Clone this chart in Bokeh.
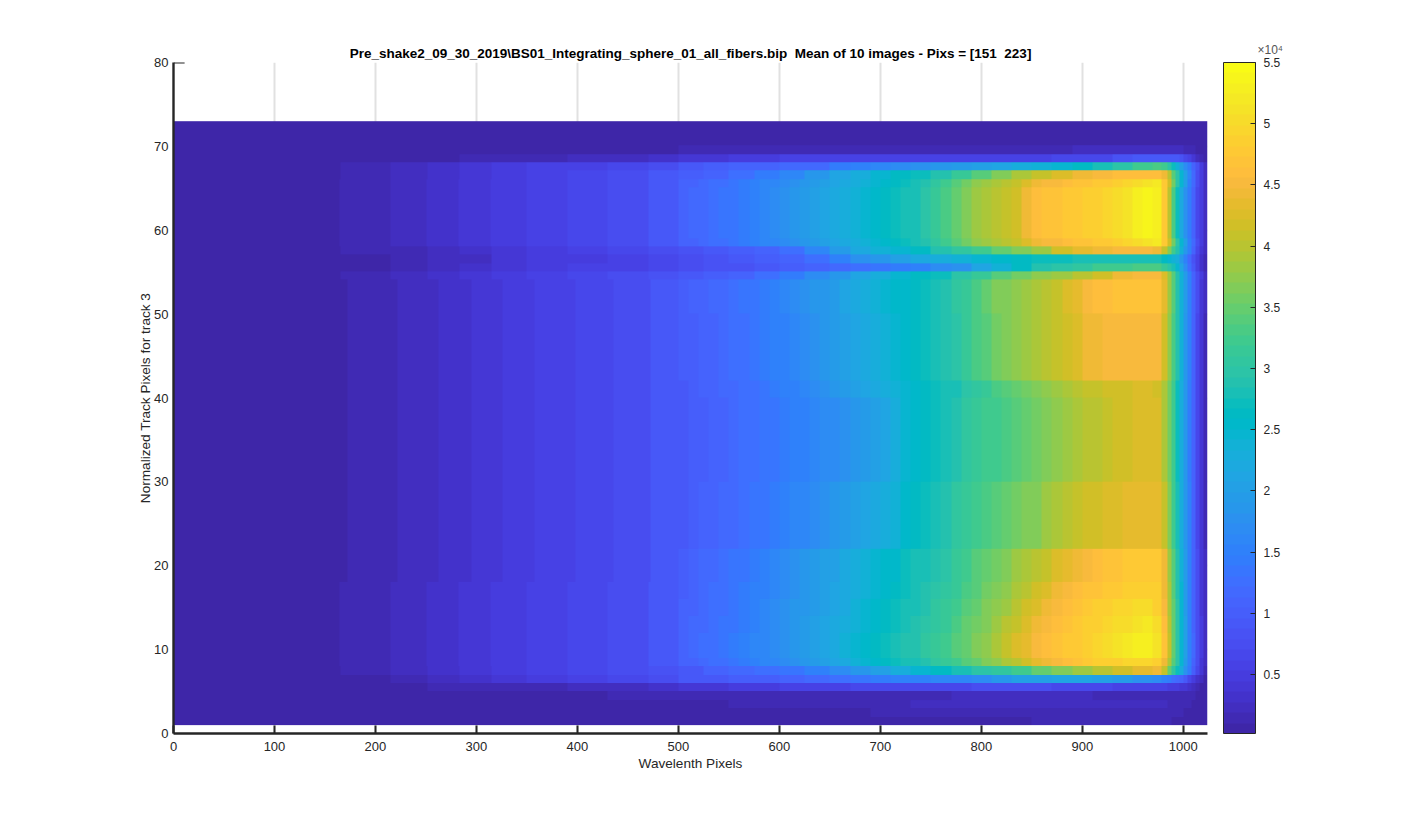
import numpy as np
from bokeh.plotting import figure
from bokeh.embed import file_html
from bokeh.resources import INLINE
from bokeh.models import LinearColorMapper, ColorBar, FixedTicker, Label

PARULA_64 = [
(0.2422,0.1504,0.6603),(0.2504,0.1650,0.7076),(0.2578,0.1818,0.7511),(0.2647,0.1978,0.7952),
(0.2706,0.2147,0.8364),(0.2751,0.2342,0.8710),(0.2783,0.2559,0.8991),(0.2803,0.2782,0.9221),
(0.2813,0.3006,0.9414),(0.2810,0.3228,0.9579),(0.2795,0.3447,0.9717),(0.2760,0.3667,0.9829),
(0.2699,0.3892,0.9906),(0.2602,0.4123,0.9952),(0.2440,0.4358,0.9988),(0.2206,0.4603,0.9973),
(0.1963,0.4847,0.9892),(0.1834,0.5074,0.9798),(0.1786,0.5289,0.9682),(0.1764,0.5499,0.9520),
(0.1687,0.5703,0.9359),(0.1540,0.5902,0.9218),(0.1460,0.6091,0.9079),(0.1380,0.6276,0.8973),
(0.1248,0.6459,0.8883),(0.1113,0.6635,0.8763),(0.0952,0.6798,0.8598),(0.0689,0.6948,0.8394),
(0.0297,0.7082,0.8163),(0.0036,0.7203,0.7917),(0.0067,0.7312,0.7660),(0.0433,0.7411,0.7394),
(0.0964,0.7500,0.7120),(0.1408,0.7584,0.6842),(0.1717,0.7670,0.6554),(0.1938,0.7758,0.6251),
(0.2161,0.7843,0.5923),(0.2470,0.7918,0.5567),(0.2906,0.7973,0.5188),(0.3406,0.8008,0.4789),
(0.3909,0.8029,0.4354),(0.4456,0.8024,0.3909),(0.5044,0.7993,0.3480),(0.5616,0.7942,0.3045),
(0.6174,0.7876,0.2612),(0.6720,0.7793,0.2227),(0.7242,0.7698,0.1910),(0.7738,0.7598,0.1646),
(0.8203,0.7498,0.1535),(0.8634,0.7406,0.1596),(0.9035,0.7330,0.1774),(0.9393,0.7288,0.2100),
(0.9728,0.7298,0.2394),(0.9956,0.7434,0.2371),(0.9970,0.7659,0.2199),(0.9952,0.7893,0.2028),
(0.9892,0.8136,0.1885),(0.9786,0.8386,0.1766),(0.9676,0.8639,0.1643),(0.9610,0.8890,0.1537),
(0.9597,0.9135,0.1423),(0.9628,0.9373,0.1265),(0.9691,0.9606,0.1064),(0.9769,0.9839,0.0805)]
palette = ["#%02x%02x%02x" % tuple(int(round(c * 255)) for c in rgb) for rgb in PARULA_64]

TITLE = "Pre_shake2_09_30_2019\\BS01_Integrating_sphere_01_all_fibers.bip \u00a0Mean of 10 images - Pixs = [151 \u00a0223]"
X_LABEL = "Wavelenth Pixels"
Y_LABEL = "Normalized Track Pixels for track 3"
X_TICKS = [0, 100, 200, 300, 400, 500, 600, 700, 800, 900, 1000]
Y_TICKS = [0, 10, 20, 30, 40, 50, 60, 70, 80]
BAR_TICKS = [0.5, 1, 1.5, 2, 2.5, 3, 3.5, 4, 4.5, 5, 5.5]
BAR_LOW, BAR_HIGH = 0.018, 5.5   # in units of 1e4 counts

# Wavelength pixel bins of the thin rows
COARSE_EDGES = [0,165,215,252,283,315,350,390,430,470,500,525,550,575,600,625,650,670,690,710,730,750,
                770,790,810,830,850,870,890,910,930,950,970,978,984,988,992,996,1000,1004,1008,1012,1016,1020,1024]
# Wavelength pixel bins of the wide bands: left part, middle part in steps of ten, right edge
TOP_LEFT_EDGES = [0,164,215,251,282,314,350,390,430,470]
BODY_LEFT_EDGES = [0,172,222,262,295,326,358,398,436,472]
MID_EDGES = [500,510,520,530,540,550,560,570,580,590,600,610,620,630,640,650,660,670,680,690,700,710,720,730,
             740,750,760,770,780,790,800,810,820,830,840,850,860,870,880,890,900,910,920,930,940,950,960]
TAIL_EDGES = [970,978,984,988,992,996,1000,1004,1008,1012,1016,1020,1024]

# Values, in hundreds of counts
LEFT = [5,14,23,32,40,49,57,66,74,88]

# Wide bands: values in the middle bins and in the right-hand tail
P_mid = [108,114,120,126,132,138,145,152,160,168,176,184,192,200,208,216,226,236,246,254,262,268,276,284,300,316,332,350,368,384,392,400,408,420,440,458,465,470,475,480,485,490,497,505,515,525,538]
P_tail = [530,480,400,330,270,220,180,140,105,70,45,22]
F_mid = [105,110,116,122,128,134,141,148,156,163,171,179,187,195,203,211,221,231,240,248,256,262,270,278,292,308,324,342,358,372,380,388,396,408,426,442,450,455,460,465,470,475,480,487,495,505,515]
F_tail = [518,480,420,360,300,245,200,155,115,78,48,24]
K1_mid = [100,105,110,115,120,126,132,138,145,152,158,166,174,182,190,198,208,218,228,234,245,252,258,266,274,282,292,304,318,335,350,362,370,378,386,394,402,412,425,438,450,458,464,468,470,472,472]
K1_tail = [470,435,385,340,290,240,195,150,110,72,42,20]
K2_mid = [98,103,108,113,118,124,130,136,142,148,154,162,170,178,186,194,204,214,224,230,240,248,254,262,270,278,288,300,314,330,344,356,364,372,380,388,396,406,418,430,440,446,450,452,454,455,455]
K2_tail = [452,420,375,335,285,235,190,148,108,70,40,18]
K3_mid = [96,100,105,110,115,120,125,130,135,142,148,154,160,168,176,184,192,200,210,218,226,236,248,256,262,268,276,284,294,304,316,328,338,346,354,362,372,382,392,400,406,410,414,418,420,422,422]
K3_tail = [420,395,360,320,275,230,185,145,105,68,38,18]
L_mid = [94,98,102,107,112,117,122,127,132,138,143,148,153,160,167,172,180,188,196,204,212,225,245,255,262,270,280,290,302,312,320,326,332,340,348,356,364,372,380,388,396,404,408,413,418,422,425]
L_tail = [425,395,360,320,275,230,185,145,105,68,38,18]
M_mid = [96,100,105,110,115,120,126,132,138,144,150,156,162,170,178,185,193,200,208,216,226,240,255,264,272,280,290,302,314,326,332,338,345,354,362,370,380,390,398,406,414,420,425,430,434,437,438]
M_tail = [437,405,365,325,280,232,188,148,108,70,40,18]
N_mid = [102,108,114,120,126,132,138,145,152,160,167,175,183,191,199,207,216,226,236,243,252,258,268,276,284,292,300,312,324,336,346,356,368,382,392,402,412,424,436,444,452,460,466,470,474,477,478]
N_tail = [475,440,385,340,290,240,195,150,110,72,42,20]
N2_mid = [104,110,116,122,128,134,141,148,155,163,171,179,187,195,203,211,220,230,240,248,256,263,272,280,288,297,306,318,331,344,354,365,377,391,403,415,427,439,450,458,465,472,477,481,485,488,489]
N2_tail = [482,445,390,342,292,242,196,151,111,73,43,20]
Q_mid = [106,112,118,124,130,136,143,150,158,166,174,182,190,198,206,214,224,234,244,252,260,268,276,284,292,302,312,325,338,352,362,374,386,400,414,428,442,454,464,472,478,484,488,492,496,499,500]
Q_tail = [490,450,395,345,295,245,198,152,112,74,44,20]
Q2_mid = [108,114,120,126,132,138,145,153,161,169,177,185,193,201,210,219,229,239,249,257,265,272,280,288,297,307,318,331,345,359,370,383,397,411,425,439,451,461,469,476,483,489,495,501,507,514,516]
Q2_tail = [502,460,400,348,298,248,199,153,113,75,45,20]
R_mid = [110,116,122,128,134,141,148,156,164,172,180,188,196,205,214,224,234,244,254,262,270,277,285,293,302,312,324,338,352,366,378,392,408,422,436,450,460,468,474,480,488,494,502,510,518,528,530]
R_tail = [515,470,405,350,300,250,200,155,115,75,45,20]
S_mid = [105,111,117,123,129,135,142,149,156,164,172,180,188,196,205,214,224,234,244,252,260,268,276,284,292,302,312,325,338,352,364,376,390,404,418,432,444,454,462,470,476,482,486,490,494,498,498]
S_tail = [485,445,390,340,295,245,198,152,112,74,44,20]

# Thin rows, one value per coarse bin
T0 = [5,5,5,5,5,5,5,5,5,5,5,5,5,5,5,5,5,5,5,5,5,5,5,5,5,5,5,5,5,5,5,5,5,5,5,5,5,5,5,5,5,5,5,5]
T1 = [5,5,5,5,5,5,5,5,5,5,14,14,14,14,14,14,14,14,14,14,14,14,14,14,14,14,14,14,23,23,23,23,23,23,23,23,23,23,14,14,14,5,5,5]
C  = [5,5,5,5,14,14,14,23,23,32,40,40,49,49,57,57,57,60,60,60,60,60,60,60,60,60,60,66,66,70,80,90,95,95,95,95,90,85,70,55,40,25,14,5]
D  = [5,14,23,32,40,49,57,57,66,74,91,100,108,112,116,120,140,150,160,170,180,188,195,205,215,225,235,245,260,280,300,320,330,320,300,270,240,200,170,140,110,80,50,25]
E  = [5,14,23,32,40,49,57,66,74,88,100,112,125,140,160,185,212,232,250,262,275,290,315,340,365,390,410,430,445,455,460,462,462,445,400,340,300,250,205,160,115,75,45,22]
G  = [5,14,14,23,32,40,49,57,66,74,83,91,100,112,130,160,195,220,235,250,265,285,305,325,345,365,385,415,435,445,450,455,445,410,365,320,285,240,190,150,110,70,42,20]
H  = [5,5,14,23,23,40,49,49,57,66,74,83,91,100,112,130,155,175,190,205,218,230,240,250,258,265,272,275,278,280,280,280,278,265,250,240,225,190,150,115,85,55,30,15]
I  = [5,5,14,23,32,40,49,57,60,66,74,80,86,91,100,110,118,126,135,142,150,165,180,210,240,265,285,300,310,320,325,330,330,315,300,280,250,210,165,125,90,58,32,15]
J  = [5,14,23,32,40,49,57,66,74,83,91,100,108,125,140,165,190,215,230,245,260,275,298,318,340,360,375,385,400,420,440,450,452,425,380,340,290,240,195,150,110,72,45,22]
Tt = [5,14,23,32,40,49,57,66,74,85,95,105,115,125,135,150,170,190,205,225,250,265,280,295,310,325,350,370,385,400,420,435,440,410,350,310,270,225,180,140,100,65,38,18]
U  = [5,5,14,23,32,40,49,57,66,74,91,95,100,104,108,115,125,132,140,148,152,156,160,172,188,200,205,210,210,205,195,180,165,155,145,130,120,105,90,70,50,35,20,10]
V  = [5,5,5,14,14,14,14,23,23,32,40,40,49,49,57,60,60,62,62,64,66,68,70,72,74,76,74,70,66,62,60,58,55,55,52,50,45,42,38,30,22,14,5,5]
W1 = [5,5,5,5,5,5,5,5,14,14,14,14,14,14,14,14,14,14,14,14,14,14,23,23,23,23,23,23,23,14,14,14,14,14,14,14,14,14,14,14,14,5,5,5]
W2 = [5,5,5,5,5,5,5,5,5,5,5,5,14,14,14,14,14,14,14,14,23,23,23,23,23,23,23,23,23,23,23,23,23,23,14,14,14,14,14,14,5,5,5,5]
W3 = [5,5,5,5,5,5,5,5,5,5,5,5,5,5,5,5,5,5,14,14,14,14,14,14,14,14,14,14,14,14,14,14,14,14,14,14,14,14,5,5,5,5,5,5]
W4 = [5,5,5,5,5,5,5,5,5,5,5,5,5,5,5,5,5,5,5,5,5,5,5,5,5,5,14,14,14,14,14,14,14,14,14,5,5,5,5,5,5,5,5,5]

COARSE_W = np.diff(COARSE_EDGES)
TOP_W = np.diff(TOP_LEFT_EDGES + MID_EDGES + TAIL_EDGES)
BODY_W = np.diff(BODY_LEFT_EDGES + MID_EDGES + TAIL_EDGES)

def thin(r):
    assert len(r) == len(COARSE_W), len(r)
    return np.repeat(np.array(r, dtype=float) * 100, COARSE_W)

def wide(mid, tail, w):
    r = LEFT + mid + tail
    assert len(r) == len(w), len(r)
    return np.repeat(np.array(r, dtype=float) * 100, w)

r_P = wide(P_mid, P_tail, TOP_W); r_F = wide(F_mid, F_tail, TOP_W)
r_Q = wide(Q_mid, Q_tail, TOP_W); r_R = wide(R_mid, R_tail, TOP_W); r_S = wide(S_mid, S_tail, TOP_W)
r_Q2 = wide(Q2_mid, Q2_tail, TOP_W); r_N2 = wide(N2_mid, N2_tail, TOP_W)
r_K1 = wide(K1_mid, K1_tail, BODY_W); r_K2 = wide(K2_mid, K2_tail, BODY_W); r_K3 = wide(K3_mid, K3_tail, BODY_W)
r_L = wide(L_mid, L_tail, BODY_W); r_M = wide(M_mid, M_tail, BODY_W); r_N = wide(N_mid, N_tail, BODY_W)
r_T0, r_T1, r_C, r_D, r_E = thin(T0), thin(T1), thin(C), thin(D), thin(E)
r_G, r_H, r_I, r_J, r_Tt = thin(G), thin(H), thin(I), thin(J), thin(Tt)
r_U, r_V, r_W1, r_W2, r_W3, r_W4 = thin(U), thin(V), thin(W1), thin(W2), thin(W3), thin(W4)

# Which spectrum each track pixel row shows, from the row at 1-2 to the row at 72-73
ROWS = [r_W4, r_W3, r_W2, r_W1, r_V, r_U, r_Tt, r_S, r_R, r_R, r_R, r_Q2, r_Q2, r_Q, r_Q, r_N2, r_N2, r_N, r_N, r_N, r_N,
        r_M, r_M, r_M, r_M, r_M, r_M, r_M, r_M, r_L, r_L, r_L, r_L, r_L, r_L, r_L, r_L, r_L, r_L, r_K3, r_K3,
        r_K2, r_K2, r_K2, r_K2, r_K2, r_K2, r_K2, r_K2, r_K1, r_K1, r_K1, r_K1, r_J, r_I, r_H, r_G, r_F,
        r_P, r_P, r_P, r_P, r_P, r_P, r_F, r_E, r_D, r_C, r_T1, r_T0, r_T0, r_T0]
assert len(ROWS) == 72, len(ROWS)
matrix = np.array(ROWS)

mapper = LinearColorMapper(palette=palette, low=BAR_LOW * 1e4, high=BAR_HIGH * 1e4)

INK = "#262626"
p = figure(frame_width=1034, frame_height=671, x_range=(0, 1024), y_range=(0, 80),
           output_backend="svg", toolbar_location=None,
           min_border_left=173, min_border_right=200, min_border_top=62, min_border_bottom=80,
           title=TITLE, x_axis_label=X_LABEL, y_axis_label=Y_LABEL)
p.outline_line_color = None
p.background_fill_color = "white"

p.title.align = "center"
p.title.text_font = "Liberation Sans"
p.title.text_font_size = "13.5px"
p.title.text_font_style = "bold"
p.title.text_color = "black"
p.title.standoff = 4

p.xaxis.ticker = FixedTicker(ticks=X_TICKS)
p.yaxis.ticker = FixedTicker(ticks=Y_TICKS)
p.xgrid.ticker = FixedTicker(ticks=X_TICKS)
p.ygrid.ticker = FixedTicker(ticks=Y_TICKS)
p.grid.grid_line_color = "#e1e1e1"
p.grid.grid_line_width = 2

for ax in (p.xaxis[0], p.yaxis[0]):
    ax.axis_line_color = INK
    ax.axis_line_width = 2.4
    ax.major_tick_line_color = INK
    ax.major_tick_line_width = 2
    ax.major_tick_out = 0
    ax.minor_tick_in = 0
    ax.minor_tick_out = 0
    ax.major_label_text_font = "Liberation Sans"
    ax.major_label_text_font_size = "13px"
    ax.major_label_text_color = INK
    ax.axis_label_text_font = "Liberation Sans"
    ax.axis_label_text_font_size = "13.6px"
    ax.axis_label_text_font_style = "normal"
    ax.axis_label_text_color = INK
p.xaxis[0].major_tick_in = 8
p.yaxis[0].major_tick_in = 0
p.xaxis[0].major_label_standoff = 8
p.yaxis[0].major_label_standoff = 5
p.xaxis[0].axis_label_standoff = 2
p.yaxis[0].axis_label_standoff = -2

p.image(image=[matrix], x=0, y=1, dw=1024, dh=72, color_mapper=mapper)

# the single y tick that is not hidden by the image
p.segment(x0=[0], y0=[Y_TICKS[-1]], x1=[11], y1=[Y_TICKS[-1]], line_color=INK, line_width=2)

bar = ColorBar(color_mapper=mapper, location=(1050, 0), width=32, height=671, padding=0, margin=0,
               ticker=FixedTicker(ticks=[t * 1e4 for t in BAR_TICKS]),
               major_label_overrides={t * 1e4: ("%g" % t) for t in BAR_TICKS},
               major_tick_line_color=INK, major_tick_in=5, major_tick_out=0,
               minor_tick_line_color=None, bar_line_color=INK, bar_line_width=1,
               major_label_text_font="Liberation Sans", major_label_text_font_size="12px",
               major_label_text_color=INK, label_standoff=8)
p.add_layout(bar, "center")

p.add_layout(Label(x=50, y=684, x_units="screen", y_units="screen", text="×10⁴",
                   text_font="Liberation Sans", text_font_size="12px",
                   text_color="#555555", text_baseline="middle"), "right")

open("out.html", "w").write(file_html(p, INLINE))
